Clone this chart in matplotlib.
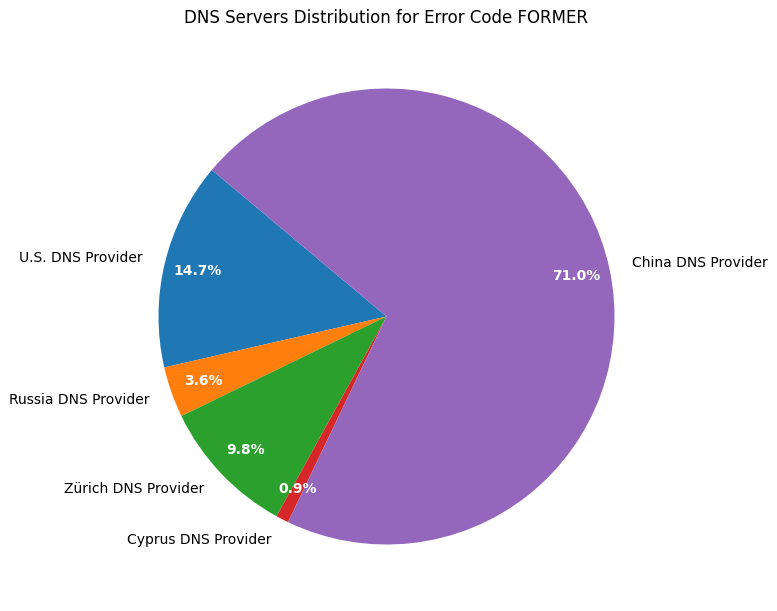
import matplotlib
matplotlib.use("Agg")
import matplotlib.pyplot as plt

labels = ["U.S. DNS Provider", "Russia DNS Provider", "Zürich DNS Provider",
          "Cyprus DNS Provider", "China DNS Provider"]
values = [14.7, 3.6, 9.8, 0.9, 71.0]
colors = ["#1f77b4", "#ff7f0e", "#2ca02c", "#d62728", "#9467bd"]

W, H = 777, 611
fig = plt.figure(figsize=(W / 100, H / 100), dpi=100)
cx, cy, r = 386.5, 316.5, 228
half = r * 1.25
ax = fig.add_axes([(cx - half) / W, (H - cy - half) / H, 2 * half / W, 2 * half / H])
wedges, texts, autotexts = ax.pie(values, labels=labels, colors=colors,
                                  autopct="%1.1f%%", startangle=140,
                                  pctdistance=0.85)
for t in autotexts:
    t.set_color("white")
    t.set_fontweight("bold")
ax.set_aspect("equal")
ax.set_title("DNS Servers Distribution for Error Code FORMER")
fig.savefig("out.png", dpi=100)
